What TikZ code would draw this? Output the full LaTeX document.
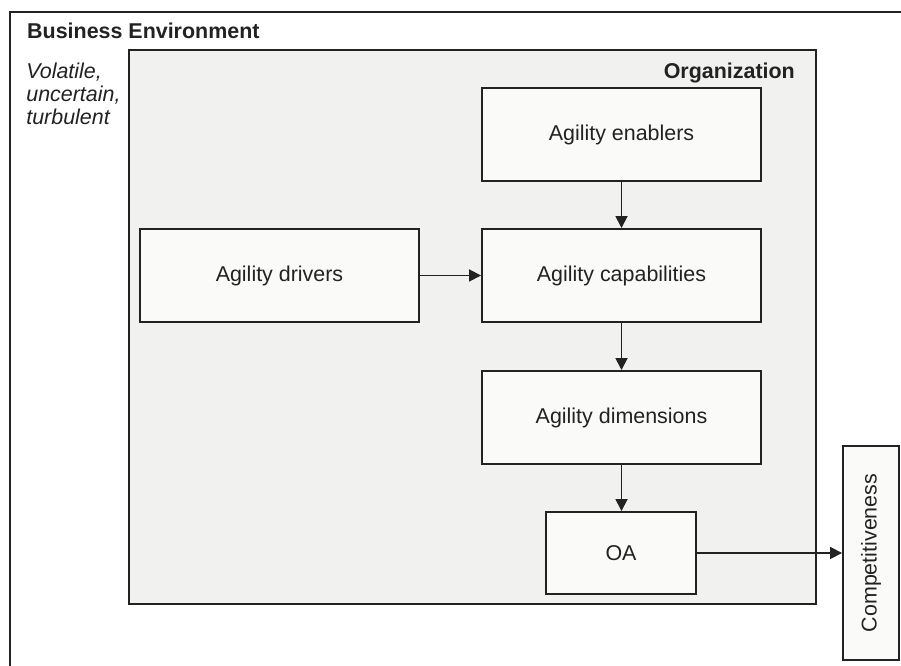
\documentclass[tikz,border=0pt]{standalone}
\usepackage{fontspec}
\setmainfont{Liberation Sans}
\usetikzlibrary{arrows.meta}
\definecolor{orgfill}{HTML}{F1F1F0}
\definecolor{boxfill}{HTML}{FAFAF9}
\definecolor{linecol}{HTML}{222222}
\tikzset{
    boxnode/.style={draw=linecol, line width=1.1pt, fill=boxfill, inner sep=0pt,
        text=linecol, minimum width=5.58cm, minimum height=1.86cm,
        font=\fontsize{12.2pt}{14.6pt}\selectfont},
    flow/.style={draw=linecol, line width=1pt, -{Triangle[length=0.24cm,width=0.24cm]}}
}
\begin{document}
\begin{tikzpicture}

    \useasboundingbox (0,0) rectangle (18.02,13.32);

    %business environment
    \draw [draw=linecol, line width=1.1pt](0.2,-0.2) -- (0.2,13.08) -- (18.3,13.08);
    \node [anchor=west, text=linecol, font=\fontsize{12.2pt}{14.6pt}\selectfont\bfseries] (env) at (0.42,12.7) {Business Environment};
    \node [anchor=north west, align=left, inner sep=0pt, text=linecol, font=\fontsize{12.2pt}{13pt}\selectfont\itshape] (envtext) at (0.52,12.06) {Volatile,\\uncertain,\\turbulent};

    %organization
    \draw [draw=linecol, line width=1.1pt, fill=orgfill](2.58,1.24) rectangle (16.32,12.32);
    \node [anchor=east, text=linecol, font=\fontsize{12.2pt}{14.6pt}\selectfont\bfseries] (org) at (16.02,11.86) {Organization};

    %boxes
    \node [boxnode] (enablers) at (12.43,10.63) {Agility enablers};
    \node [boxnode] (capabilities) at (12.43,7.81) {Agility capabilities};
    \node [boxnode] (drivers) at (5.59,7.81) {Agility drivers};
    \node [boxnode] (dimensions) at (12.43,4.97) {Agility dimensions};
    \node [boxnode, minimum width=3cm, minimum height=1.64cm] (oa) at (12.42,2.26) {OA};
    \node [boxnode, minimum width=1.12cm, minimum height=4.28cm] (comp) at (17.42,2.26) {\rotatebox{90}{Competitiveness}};

    %arrows
    \draw [flow] (enablers) -- (capabilities);
    \draw [flow] (drivers) -- (capabilities);
    \draw [flow] (capabilities) -- (dimensions);
    \draw [flow] (dimensions.south) -- (oa.north -| dimensions.south);
    \draw [flow] (oa) -- (comp);

\end{tikzpicture}
\end{document}
